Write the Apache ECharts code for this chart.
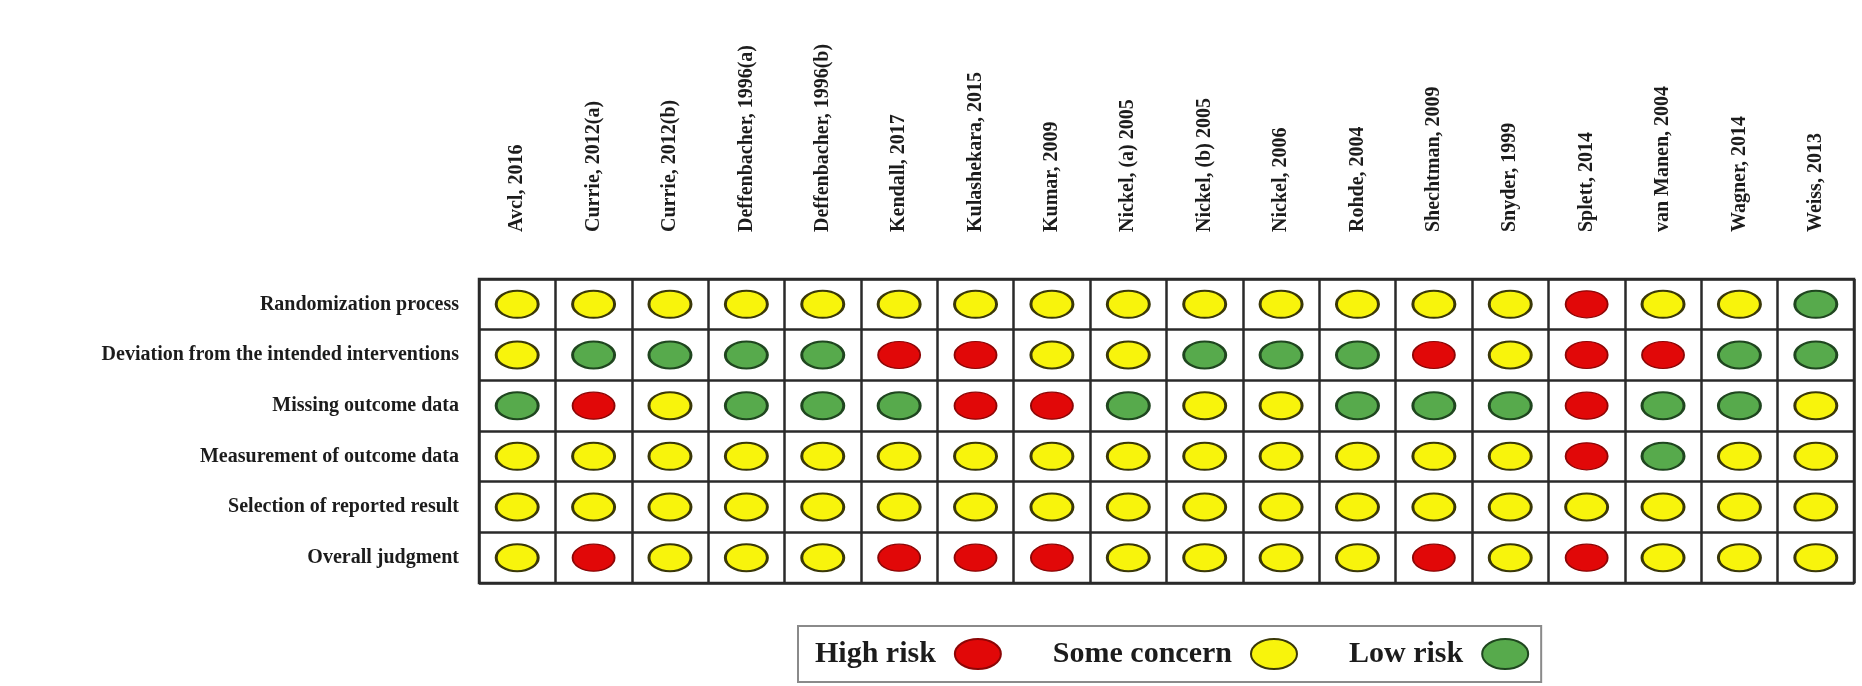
<!DOCTYPE html>
<html>
<head>
<meta charset="utf-8">
<script src="https://cdn.jsdelivr.net/npm/echarts@6/dist/echarts.min.js"></script>
<style>
  html, body { margin: 0; padding: 0; background: #ffffff; }
  #chart { width: 1862px; height: 686px; }
</style>
</head>
<body>
<div id="chart"></div>
<script>
// Studies (columns)
const studies = [
  'Avcl, 2016', 'Currie, 2012(a)', 'Currie, 2012(b)', 'Deffenbacher, 1996(a)',
  'Deffenbacher, 1996(b)', 'Kendall, 2017', 'Kulashekara, 2015', 'Kumar, 2009',
  'Nickel, (a) 2005', 'Nickel, (b) 2005', 'Nickel, 2006', 'Rohde, 2004',
  'Shechtman, 2009', 'Snyder, 1999', 'Splett, 2014', 'van Manen, 2004',
  'Wagner, 2014', 'Weiss, 2013'
];

// Risk-of-bias domains (rows)
const domains = [
  'Randomization process',
  'Deviation from the intended interventions',
  'Missing outcome data',
  'Measurement of outcome data',
  'Selection of reported result',
  'Overall judgment'
];

// Judgements per domain, one per study: H = high risk, S = some concern, L = low risk
const randomization = ['S','S','S','S','S','S','S','S','S','S','S','S','S','S','H','S','S','L'];
const deviation     = ['S','L','L','L','L','H','H','S','S','L','L','L','H','S','H','H','L','L'];
const missingData   = ['L','H','S','L','L','L','H','H','L','S','S','L','L','L','H','L','L','S'];
const measurement   = ['S','S','S','S','S','S','S','S','S','S','S','S','S','S','H','L','S','S'];
const selection     = ['S','S','S','S','S','S','S','S','S','S','S','S','S','S','S','S','S','S'];
const overall       = ['S','H','S','S','S','H','H','H','S','S','S','S','H','S','H','S','S','S'];

const judgements = [randomization, deviation, missingData, measurement, selection, overall];

// Legend entries, in drawing order
const levelCodes = ['H', 'S', 'L'];
const levelNames = ['High risk', 'Some concern', 'Low risk'];

const levelStyle = {
  H: { color: '#e10808', borderColor: '#8c0606', borderWidth: 1.5, opacity: 1 },
  S: { color: '#f8f40c', borderColor: '#3a3808', borderWidth: 2.4, opacity: 1 },
  L: { color: '#57aa4c', borderColor: '#1f461f', borderWidth: 2.4, opacity: 1 }
};

const ellipse = 'path://M0,50A50,50 0 1 1 100,50A50,50 0 1 1 0,50Z';
const serif = '"Liberation Serif", "Times New Roman", serif';

function pointsFor(code) {
  const pts = [];
  judgements.forEach(function (row, r) {
    row.forEach(function (v, c) {
      if (v === code) pts.push([c, r]);
    });
  });
  return pts;
}

const series = levelCodes.map(function (code, i) {
  return {
    name: levelNames[i],
    type: 'scatter',
    symbol: ellipse,
    symbolKeepAspect: false,
    symbolSize: [42, 27],
    itemStyle: levelStyle[code],
    data: pointsFor(code),
    emphasis: { disabled: true }
  };
});

const chart = echarts.init(document.getElementById('chart'));
chart.setOption({
  animation: false,
  backgroundColor: '#ffffff',
  grid: {
    left: 479, right: 8, top: 279, bottom: 103,
    show: true, borderColor: '#2a2a2a', borderWidth: 2.5,
    containLabel: false
  },
  xAxis: {
    type: 'category',
    position: 'top',
    data: studies,
    axisLine: { show: false },
    axisTick: { show: false },
    axisLabel: {
      rotate: -90, margin: 47, interval: 0,
      fontFamily: serif, fontWeight: 'bold', fontSize: 20, color: '#1c1c1c'
    },
    splitLine: { show: true, lineStyle: { color: '#2a2a2a', width: 2.5 } }
  },
  yAxis: {
    type: 'category',
    inverse: true,
    data: domains,
    axisLine: { show: false },
    axisTick: { show: false },
    axisLabel: {
      margin: 20, interval: 0,
      fontFamily: serif, fontWeight: 'bold', fontSize: 20, color: '#1c1c1c'
    },
    splitLine: { show: true, lineStyle: { color: '#2a2a2a', width: 2.5 } }
  },
  legend: {
    data: levelNames,
    left: 798, top: 626,
    orient: 'horizontal',
    align: 'right',
    icon: ellipse,
    symbolKeepAspect: false,
    itemWidth: 46, itemHeight: 30,
    itemGap: 51,
    padding: [12, 12, 12, 17],
    borderColor: '#8a8a8a', borderWidth: 2,
    selectedMode: false,
    textStyle: {
      fontFamily: serif, fontWeight: 'bold', fontSize: 30, color: '#1c1c1c',
      padding: [0, 14, 0, 0]
    }
  },
  series: series
});
</script>
</body>
</html>
